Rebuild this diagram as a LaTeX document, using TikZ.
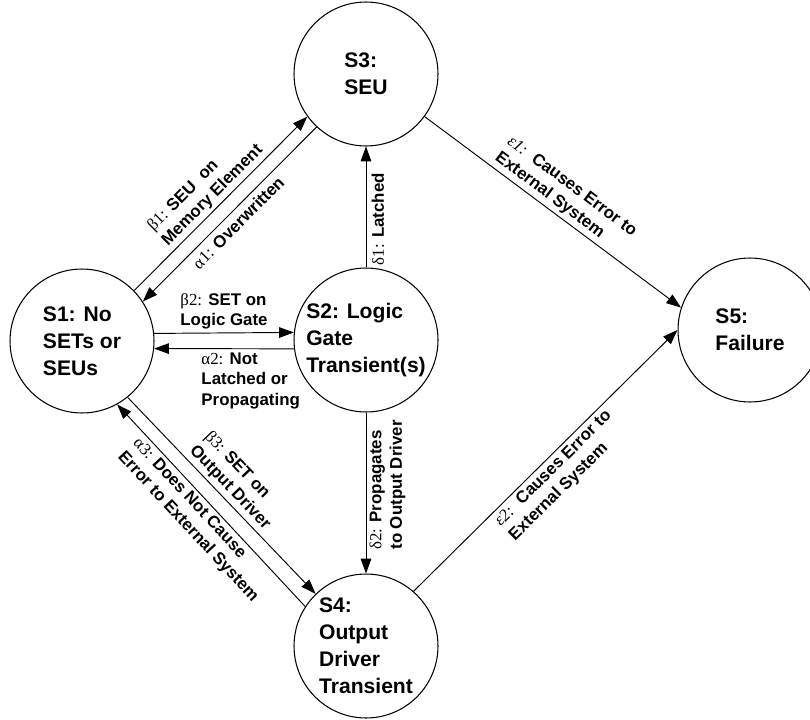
\documentclass[tikz,border=0pt]{standalone}
\usepackage{fontspec}
\setmainfont{Liberation Sans}
\newfontfamily\grk{Liberation Serif}
\usetikzlibrary{arrows.meta}

\newcommand{\gk}[1]{{\grk\mdseries #1}}

\tikzset{
  state/.style={draw,circle,line width=1pt,minimum size=4.8cm,inner sep=0pt,
    align=left,font=\fontsize{20}{25.5}\selectfont\bfseries},
  trans/.style={line width=0.9pt,-{Triangle[length=14pt,width=10pt]}},
  lbl/.style={font=\fontsize{16}{19.5}\selectfont\bfseries,align=left,inner sep=3pt}
}

\begin{document}
\begin{tikzpicture}[x=0.033333cm, y=-0.033333cm]

\useasboundingbox (0,0) rectangle (810,719);

  % states
  \node[state] (s1) at (82,341) {S1: No\\SETs or\\SEUs};
  \node[state] (s2) at (366,340) {S2: Logic\\Gate\\Transient(s)};
  \node[state] (s3) at (366,74) {S3:\\SEU};
  \node[state] (s4) at (366,646) {S4:\\Output\\Driver\\Transient};
  \node[state] (s5) at (750,330) {S5:\\Failure};

  % S1 <-> S3
  \draw[trans] (s1.44) -- node[lbl,midway,above,sloped]
    {\gk{β1:} SEU\ \ on\\Memory Element} (s3.216);
  \draw[trans] (s3.227) -- node[lbl,midway,below,sloped,inner sep=5pt]
    {\gk{α1:} Overwritten} (s1.33);

  % S1 <-> S2
  \draw[trans] (s1.6) -- node[lbl,midway,above]
    {\gk{β2:} SET on\\Logic Gate} (s2.174);
  \draw[trans] (s2.187) -- node[lbl,pos=0.31,below]
    {\gk{α2:} Not\\Latched or\\Propagating} (s1.354);

  % S1 <-> S4
  \draw[trans] (s1.309) -- node[lbl,midway,above,sloped]
    {\gk{β3:} SET on\\Output Driver} (s4.134);
  \draw[trans] (s4.147) -- node[lbl,midway,below,sloped]
    {\gk{α3:} Does Not Cause\\Error to External System} (s1.299);

  % S2 -> S3, S2 -> S4
  \draw[trans] (s2.north) -- node[lbl,pos=0.4,below,sloped,inner sep=5pt]
    {\gk{δ1:} Latched} (s3.south);
  \draw[trans] (s2.south) -- node[lbl,pos=0.45,anchor=north,rotate=90]
    {\gk{δ2:} Propagates\\to Output Driver} (s4.north);

  % to failure
  \draw[trans] (s3.324) -- node[lbl,midway,above,sloped]
    {\gk{\itshape ε1:}\ \ Causes Error to\\External System} (s5.162);
  \draw[trans] (s4.49) -- node[lbl,midway,below,sloped]
    {\gk{\itshape ε2:}\ \ Causes Error to\\External System} (s5.180);

\end{tikzpicture}
\end{document}
